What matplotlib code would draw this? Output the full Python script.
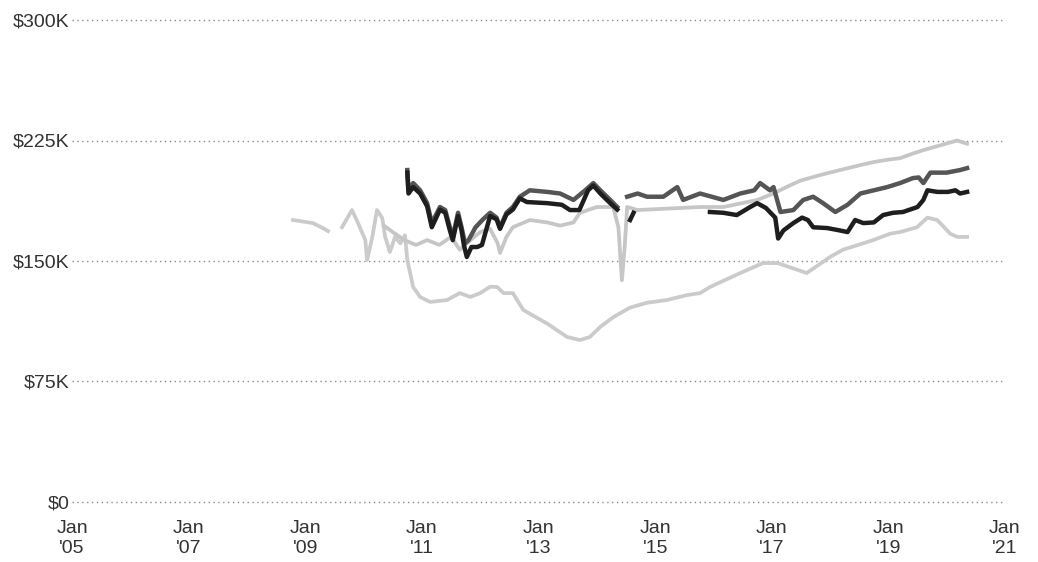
import numpy as np
import matplotlib
matplotlib.use("Agg")
import matplotlib.pyplot as plt

nan = np.nan

# lower light series (starts 2009, bottoms out 2013)
light_low_x = [2008.79, 2009.13, 2009.30, 2009.39, 2009.50, 2009.63, 2009.80, 2009.90, 2010.03, 2010.06,
               2010.15, 2010.23, 2010.32, 2010.37, 2010.45, 2010.54, 2010.63, 2010.71, 2010.75, 2010.85,
               2010.97, 2011.14, 2011.43, 2011.65, 2011.83, 2012.00, 2012.17, 2012.29, 2012.40, 2012.56,
               2012.74, 2013.15, 2013.49, 2013.71, 2013.88, 2014.06, 2014.28, 2014.57, 2014.86, 2015.20,
               2015.55, 2015.77, 2015.94, 2016.46, 2016.85, 2017.10, 2017.60, 2018.00, 2018.22, 2018.74,
               2019.03, 2019.20, 2019.49, 2019.67, 2019.84, 2020.06, 2020.18, 2020.35]
light_low_y = [175.5, 173.6, 170.5, 168.6, nan, 171.0, 181.7, 174.0, 163.0, 150.6,
               165.0, 181.7, 176.7, 165.0, 155.6, 165.0, 161.0, 166.0, 150.6, 133.8,
               127.6, 124.5, 125.7, 130.0, 127.6, 130.0, 134.0, 133.8, 130.0, 130.0,
               119.5, 111.0, 102.7, 100.8, 102.7, 109.0, 115.0, 121.0, 124.0, 125.7,
               128.8, 130.0, 133.8, 142.5, 148.7, 148.7, 142.5, 152.5, 157.0, 163.0,
               167.0, 168.0, 171.0, 177.0, 175.5, 167.0, 165.0, 165.0]

# upper light series (ends near $225K)
light_high_x = [2010.35, 2010.50, 2010.70, 2010.90, 2011.09, 2011.30, 2011.50, 2011.65, 2011.80, 2012.00,
                2012.17, 2012.30, 2012.34, 2012.45, 2012.56, 2012.85, 2013.15, 2013.37, 2013.60, 2013.71,
                2014.00, 2014.28, 2014.37, 2014.43, 2014.48, 2014.52, 2014.70, 2015.43, 2015.77, 2016.17,
                2016.75, 2017.03, 2017.25, 2017.49, 2017.83, 2018.17, 2018.52, 2018.75, 2018.98, 2019.20,
                2019.43, 2019.60, 2019.89, 2020.18, 2020.35]
light_high_y = [172.0, 168.0, 163.0, 160.0, 163.0, 160.0, 165.0, 157.0, 162.0, 168.0,
                170.0, 161.0, 155.0, 165.0, 171.0, 175.5, 174.0, 172.0, 174.0, 180.0,
                183.6, 183.6, 171.0, 138.0, 160.0, 183.6, 181.7, 183.0, 183.6, 183.6,
                188.0, 192.0, 196.0, 200.0, 203.5, 206.6, 209.7, 211.6, 213.0, 214.0,
                217.0, 219.0, 222.0, 225.0, 223.0]

# dark gray series
dark_x = [2010.75, 2010.77, 2010.85, 2010.97, 2011.09, 2011.17, 2011.31, 2011.40, 2011.48, 2011.53,
          2011.62, 2011.68, 2011.74, 2011.80, 2011.92, 2012.05, 2012.17, 2012.28, 2012.34, 2012.45,
          2012.56, 2012.68, 2012.85, 2013.15, 2013.37, 2013.60, 2013.80, 2013.94, 2014.06, 2014.23,
          2014.35, 2014.45, 2014.52, 2014.70, 2014.86, 2015.14, 2015.38, 2015.48, 2015.77, 2016.17,
          2016.46, 2016.70, 2016.80, 2016.97, 2017.03, 2017.15, 2017.37, 2017.54, 2017.71, 2017.88,
          2018.09, 2018.30, 2018.52, 2018.75, 2018.98, 2019.20, 2019.42, 2019.52, 2019.60, 2019.72,
          2020.00, 2020.23, 2020.35]
dark_y = [206.6, 194.0, 198.5, 194.0, 186.0, 173.6, 183.6, 181.7, 171.0, 165.0,
          180.0, 171.0, 161.0, 163.0, 171.0, 176.0, 180.0, 177.0, 171.0, 180.0,
          183.6, 190.0, 194.0, 193.0, 192.0, 188.0, 194.0, 198.5, 194.0, 188.0,
          183.6, nan, 190.0, 192.0, 190.0, 190.0, 196.0, 188.0, 192.0, 188.0,
          192.0, 194.0, 198.5, 194.0, 196.0, 180.5, 181.7, 188.0, 190.0, 186.0,
          180.5, 185.0, 192.0, 194.0, 196.0, 198.5, 201.6, 202.0, 198.5, 205.0,
          205.0, 206.6, 207.8]

# black series
black_x = [2010.75, 2010.77, 2010.85, 2010.97, 2011.09, 2011.17, 2011.31, 2011.40, 2011.48, 2011.53,
           2011.62, 2011.68, 2011.72, 2011.77, 2011.85, 2011.95, 2012.03, 2012.17, 2012.28, 2012.34,
           2012.45, 2012.56, 2012.68, 2012.80, 2013.15, 2013.40, 2013.54, 2013.70, 2013.85, 2013.94,
           2014.06, 2014.23, 2014.35, 2014.45, 2014.57, 2014.63, 2015.00, 2015.94, 2016.17, 2016.40,
           2016.63, 2016.75, 2016.90, 2017.06, 2017.11, 2017.20, 2017.37, 2017.52, 2017.62, 2017.71,
           2017.95, 2018.17, 2018.30, 2018.43, 2018.57, 2018.75, 2018.91, 2019.08, 2019.25, 2019.50,
           2019.60, 2019.67, 2019.84, 2020.02, 2020.15, 2020.23, 2020.35]
black_y = [205.0, 192.0, 196.0, 192.0, 184.0, 171.0, 182.0, 180.0, 169.0, 163.0,
           178.0, 169.0, 160.0, 152.5, 158.7, 158.7, 160.0, 178.0, 176.0, 170.0,
           179.0, 182.0, 189.0, 186.7, 186.0, 185.0, 181.7, 181.7, 194.0, 197.0,
           192.0, 186.0, 182.0, nan, 175.5, 180.0, nan, 180.5, 180.0, 178.6, 183.6,
           186.0, 183.0, 177.0, 164.0, 169.0, 173.6, 177.0, 175.5, 171.0, 170.5,
           169.0, 168.0, 175.5, 173.6, 174.0, 178.6, 180.0, 180.5, 183.6, 188.0,
           194.0, 193.0, 193.0, 194.0, 192.0, 193.0]

y_ticks = [0, 75, 150, 225, 300]
y_labels = ["$0", "$75K", "$150K", "$225K", "$300K"]
x_ticks = [2005, 2007, 2009, 2011, 2013, 2015, 2017, 2019, 2021]
x_labels = ["Jan\n'05", "Jan\n'07", "Jan\n'09", "Jan\n'11", "Jan\n'13",
            "Jan\n'15", "Jan\n'17", "Jan\n'19", "Jan\n'21"]

plt.rcParams['font.family'] = ['Liberation Sans', 'DejaVu Sans']

fig = plt.figure(figsize=(10.38, 5.62), dpi=100)
ax = fig.add_axes([0.0694, 0.1068, 0.8988, 0.8576])

ax.plot(light_low_x, light_low_y, color='#cbcbcb', lw=2.7, solid_joinstyle='round', zorder=2)
ax.plot(light_high_x, light_high_y, color='#c6c6c6', lw=2.7, solid_joinstyle='round', zorder=2)
ax.plot(dark_x, dark_y, color='#555555', lw=3.2, solid_joinstyle='round', zorder=3)
ax.plot(black_x, black_y, color='#1e1e1e', lw=3.2, solid_joinstyle='round', zorder=4)

ax.set_xlim(2005, 2021)
ax.set_ylim(0, 300)
ax.set_yticks(y_ticks)
ax.set_yticklabels(y_labels)
ax.set_xticks(x_ticks)
ax.set_xticklabels(x_labels, linespacing=1.2)

for yv in y_ticks:
    ax.axhline(yv, color='#8a8a8a', lw=1.0, linestyle=(0, (1, 2.5)), zorder=1, clip_on=False)

for s in ax.spines.values():
    s.set_visible(False)
ax.tick_params(axis='both', length=0, labelsize=14, labelcolor='#333333')
ax.tick_params(axis='y', pad=2)
ax.tick_params(axis='x', pad=13)

fig.savefig('out.png', dpi=100)
